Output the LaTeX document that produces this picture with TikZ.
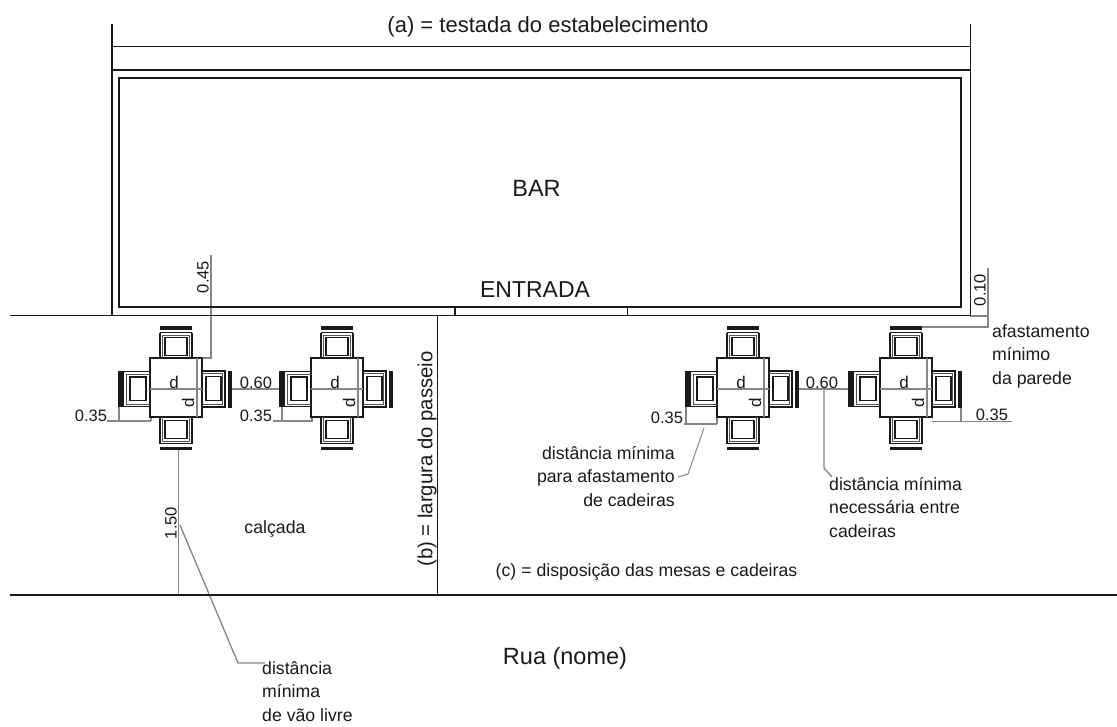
\documentclass[tikz,border=0pt]{standalone}
\usepackage{fontspec}
\setmainfont{Liberation Sans}
\definecolor{ink}{HTML}{1A1A1A}
\definecolor{dimgrey}{HTML}{8A8488}
\tikzset{
  x=1pt,y=-1pt,
  wall/.style={draw=ink,line width=1.7pt},
  furn/.style={draw=ink,line width=1.6pt},
  furnthin/.style={draw=ink!75,line width=.8pt},
  bar/.style={draw=ink,line width=3.4pt},
  dimline/.style={draw=dimgrey,line width=1.3pt},
  big/.style={font=\fontsize{22}{26}\selectfont,text=ink,inner sep=0pt},
  bigger/.style={font=\fontsize{23.5}{26}\selectfont,text=ink,inner sep=0pt},
  mid/.style={font=\fontsize{17.7}{23}\selectfont,text=ink,inner sep=0pt},
  num/.style={font=\fontsize{16.5}{20}\selectfont,text=ink,inner sep=0pt},
  small/.style={font=\fontsize{17.7}{23.5}\selectfont,text=ink,inner sep=0pt,align=left},
}
\newcommand{\tablegroup}[2]{%
  \begin{scope}[shift={(#1,#2)}]
    % table
    \draw[furn] (-26,-29.5) rectangle (26,29.5);
    % top chair
    \draw[furn] (-16,-55) -- (-16,-29.5) (16,-55) -- (16,-29.5) (-16,-55) -- (16,-55);
    \draw[furnthin] (-13.5,-29.5) -- (-13.5,-52.5) -- (13.5,-52.5) -- (13.5,-29.5);
    \draw[furn] (-11,-50) rectangle (11,-32);
    \draw[bar] (-16,-59.5) -- (16,-59.5);
    % bottom chair
    \draw[furn] (-16,56) -- (-16,29.5) (16,56) -- (16,29.5) (-16,56) -- (16,56);
    \draw[furnthin] (-13.5,29.5) -- (-13.5,53.5) -- (13.5,53.5) -- (13.5,29.5);
    \draw[furn] (-11,51) rectangle (11,33);
    \draw[bar] (-16,61) -- (16,61);
    % left chair
    \draw[furn,line width=1.3pt] (-26,-16) -- (-57,-16) -- (-57,19) -- (-26,19);
    \draw[furnthin] (-26,-13.5) -- (-50,-13.5) -- (-50,16.5) -- (-26,16.5);
    \draw[furn] (-46,-10.5) rectangle (-30,13);
    \draw[bar] (-54,-16) -- (-54,19);
    % right chair
    \draw[furn] (26,-16.5) -- (49,-16.5) -- (49,19.5) -- (26,19.5);
    \draw[furnthin] (26,-14) -- (46.5,-14) -- (46.5,17) -- (26,17);
    \draw[furn] (30,-11) rectangle (45,13);
    \draw[bar] (54,-16.5) -- (54,20);
    % table axes
    \draw[dimline] (-26,1.5) -- (26,1.5);
    \draw[dimline] (21,-29.5) -- (21,29.5);
    \node[num,font=\fontsize{17}{20}\selectfont] at (-2,-5) {d};
    \node[num,font=\fontsize{17}{20}\selectfont,rotate=90] at (12,15.5) {d};
  \end{scope}%
}
\begin{document}
\begin{tikzpicture}
\useasboundingbox (0,0) rectangle (1117,726);
\fill[white] (0,0) rectangle (1117,726);

% grey dimension lines first
\coordinate (d45a) at (211,255);
\coordinate (d45b) at (211,358);
\coordinate (d45c) at (201,358);
\draw[dimline] (d45a) -- (d45b) -- (d45c);

\coordinate (a351) at (107,421);
\coordinate (a352) at (151,421);
\draw[dimline] (a351) -- (a352) (119,407) -- (119,421) (151,417) -- (151,421);
\coordinate (a353) at (273,421);
\coordinate (a354) at (313,421);
\draw[dimline] (a353) -- (a354) (282,407) -- (282,421) (312,417) -- (312,421);
\draw[dimline] (230,389) -- (283,389);

\coordinate (a355) at (684,424);
\coordinate (a356) at (717,424);
\draw[dimline] (a355) -- (a356) (686,407) -- (686,424) (717,417) -- (717,424);
\draw[dimline] (798,389) -- (850,389);
\coordinate (a357) at (932,421.5);
\coordinate (a358) at (1012,421.5);
\draw[dimline] (a357) -- (a358) (961,407) -- (961,421.5);

\coordinate (d10a) at (988,268);
\coordinate (d10b) at (988,327);
\coordinate (d10c) at (920,327);
\draw[dimline] (d10a) -- (d10b) -- (d10c);
\draw[dimline] (970,316) -- (988,316);

\coordinate (d150a) at (178.5,450);
\coordinate (d150b) at (178.5,595);
\draw[dimline] (d150a) -- (d150b);

\coordinate (l1a) at (180,525);
\coordinate (l1b) at (238,663);
\coordinate (l1c) at (265,663);
\draw[dimline] (l1a) -- (l1b) -- (l1c);
\coordinate (l2a) at (704,428);
\coordinate (l2b) at (688,474);
\coordinate (l2c) at (678,477);
\draw[dimline,line width=1pt] (l2a) -- (l2b) -- (l2c);
\coordinate (l3a) at (824,389);
\coordinate (l3b) at (824,468);
\coordinate (l3c) at (832,477);
\draw[dimline] (l3a) -- (l3b) -- (l3c);

% building
\draw[wall] (112,24) -- (112,315.5);
\draw[wall] (970.5,24) -- (970.5,315.5);
\draw[wall] (112,46.5) -- (970.5,46.5);
\draw[wall] (112,70) -- (970.5,70);
\draw[wall] (119,78) rectangle (961,307);
\draw[wall] (10,315.5) -- (970.5,315.5);
\draw[wall] (455,307) -- (455,315.5);
\draw[wall] (627.5,307) -- (627.5,315.5);
\draw[wall] (437.5,315.5) -- (437.5,595);
\draw[wall] (10,595) -- (1117,595);

% tables
\tablegroup{176}{387.5}
\tablegroup{337}{387.5}
\tablegroup{743}{387.5}
\tablegroup{906}{387.5}

% labels
\node[big] (title) at (548,27) {(a) = testada do estabelecimento};
\node[bigger] (barlabel) at (536.5,188) {BAR};
\node[big,font=\fontsize{23}{26}\selectfont] (entrada) at (535,290) {ENTRADA};
\node[bigger] (rua) at (565,658) {Rua (nome)};
\node[mid] (calcada) at (275,529) {calçada};
\node[mid,font=\fontsize{20.3}{26}\selectfont,rotate=90] (blabel) at (427,459) {(b) = largura do passeio};
\node[mid] (clabel) at (646.5,572) {(c) = disposição das mesas e cadeiras};

\node[num,rotate=90] (v45) at (203,277) {0.45};
\node[num,rotate=90] (v10) at (980,290) {0.10};
\node[num,rotate=90] (v150) at (171,523) {1.50};
\node[num] (v351) at (91,416) {0.35};
\node[num] (v352) at (256,416) {0.35};
\node[num] (v353) at (667,418) {0.35};
\node[num] (v354) at (992,415) {0.35};
\node[num] (v601) at (256,383) {0.60};
\node[num] (v602) at (822,383) {0.60};

\node[small,anchor=north west] (n1) at (992,324) {afastamento\\mínimo\\da parede};
\node[small,anchor=north east,align=right] (n2) at (675,446) {distância mínima\\para afastamento\\de cadeiras};
\node[small,anchor=north west] (n3) at (829,477) {distância mínima\\necessária entre\\cadeiras};
\node[small,anchor=north west] (n4) at (262,661) {distância\\mínima\\de vão livre};
\end{tikzpicture}
\end{document}
